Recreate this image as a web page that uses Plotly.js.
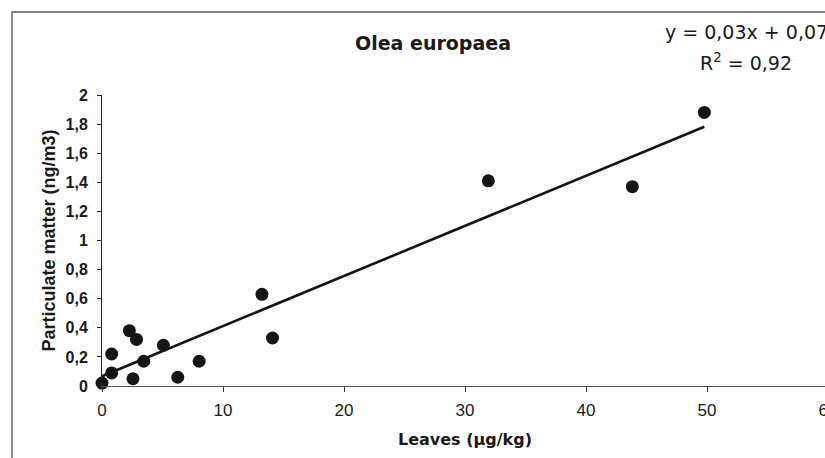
<!DOCTYPE html>
<html>
<head>
<meta charset="utf-8">
<script src="https://cdn.plot.ly/plotly-3.0.1.min.js"></script>
<style>
  html, body { margin: 0; padding: 0; background: #fff; overflow: hidden; }
  #chart { width: 840px; height: 458px; }
</style>
</head>
<body>
<div id="chart"></div>
<script>
// Data
const leaves = [0, 0.8, 0.8, 2.26, 2.85, 2.56, 3.45, 5.07, 6.26, 8.03, 13.22, 14.09, 31.93, 43.83, 49.78];
const particulate = [0.02, 0.09, 0.22, 0.38, 0.32, 0.05, 0.17, 0.28, 0.06, 0.17, 0.63, 0.33, 1.41, 1.37, 1.88];

const xTickVals = [0, 10, 20, 30, 40, 50, 60];
const xTickText = ["0", "10", "20", "30", "40", "50", "60"];
const yTickVals = [0, 0.2, 0.4, 0.6, 0.8, 1, 1.2, 1.4, 1.6, 1.8, 2];
const yTickText = ["0", "0,2", "0,4", "0,6", "0,8", "1", "1,2", "1,4", "1,6", "1,8", "2"];

const chartTitle = "Olea europaea";
const equationText = "y = 0,03x + 0,07";
const r2Text = "R<sup>2</sup> = 0,92";

// Least-squares linear trendline computed from the data
const n = leaves.length;
const mx = leaves.reduce((a, b) => a + b, 0) / n;
const my = particulate.reduce((a, b) => a + b, 0) / n;
let sxy = 0, sxx = 0;
for (let i = 0; i < n; i++) {
  sxy += (leaves[i] - mx) * (particulate[i] - my);
  sxx += (leaves[i] - mx) * (leaves[i] - mx);
}
const slope = sxy / sxx;
const intercept = my - slope * mx;
const xMin = Math.min(...leaves), xMax = Math.max(...leaves);
const trendX = [xMin, xMax];
const trendY = trendX.map(v => intercept + slope * v);

const traces = [
  {
    type: "scatter", mode: "markers", x: leaves, y: particulate,
    marker: { color: "#151515", size: 13 },
    cliponaxis: false, showlegend: false, hoverinfo: "x+y"
  },
  {
    type: "scatter", mode: "lines", x: trendX, y: trendY,
    line: { color: "#151515", width: 2.6 },
    cliponaxis: false, showlegend: false, hoverinfo: "skip"
  }
];

const layout = {
  width: 840, height: 458,
  margin: { l: 102, r: 12, t: 95, b: 72 },
  paper_bgcolor: "#fff", plot_bgcolor: "#fff",
  showlegend: false,
  title: {
    text: chartTitle,
    font: { family: "DejaVu Sans", size: 19, weight: "bold", color: "#1a1a1a" },
    xref: "container", x: 433 / 840, xanchor: "center",
    yref: "container", y: 1 - 43 / 458, yanchor: "middle"
  },
  xaxis: {
    range: [0, 60], fixedrange: true,
    tickvals: xTickVals, ticktext: xTickText,
    ticks: "outside", ticklen: 5, tickwidth: 1, tickcolor: "#333",
    showline: true, linecolor: "#555", linewidth: 1,
    showgrid: false, zeroline: false,
    tickfont: { family: "Liberation Sans", size: 17, color: "#1a1a1a" },
    ticklabelstandoff: 4,
    title: {
      text: "Leaves (µg/kg)", standoff: 14,
      font: { family: "DejaVu Sans", size: 16, weight: "bold", color: "#1a1a1a" }
    }
  },
  yaxis: {
    range: [0, 2], fixedrange: true,
    tickvals: yTickVals, ticktext: yTickText,
    ticks: "outside", ticklen: 4, tickwidth: 1, tickcolor: "#222",
    showline: true, linecolor: "#222", linewidth: 1,
    showgrid: false, zeroline: false,
    tickfont: { family: "Liberation Sans", size: 16, weight: "bold", color: "#1a1a1a" },
    ticklabelstandoff: 6,
    title: {
      text: "Particulate matter (ng/m3)", standoff: 5,
      font: { family: "Liberation Sans", size: 18, weight: "bold", color: "#1a1a1a" }
    }
  },
  annotations: [
    {
      text: equationText, xref: "paper", yref: "paper",
      x: (746 - 102) / 726, y: (386 - 32) / 291,
      xanchor: "center", yanchor: "middle", showarrow: false,
      font: { family: "DejaVu Sans", size: 19, color: "#1a1a1a" }
    },
    {
      text: r2Text, xref: "paper", yref: "paper",
      x: (746 - 102) / 726, y: (386 - 62) / 291,
      xanchor: "center", yanchor: "middle", showarrow: false,
      font: { family: "DejaVu Sans", size: 19, color: "#1a1a1a" }
    }
  ],
  shapes: [
    {
      type: "rect", xref: "paper", yref: "paper",
      x0: (12 - 102) / 726, x1: 1.2,
      y0: -0.5, y1: (386 - 12) / 291,
      line: { color: "#555", width: 1.3 }, fillcolor: "rgba(0,0,0,0)",
      layer: "below"
    }
  ]
};

Plotly.newPlot("chart", traces, layout, { displayModeBar: false, staticPlot: true });
</script>
</body>
</html>
